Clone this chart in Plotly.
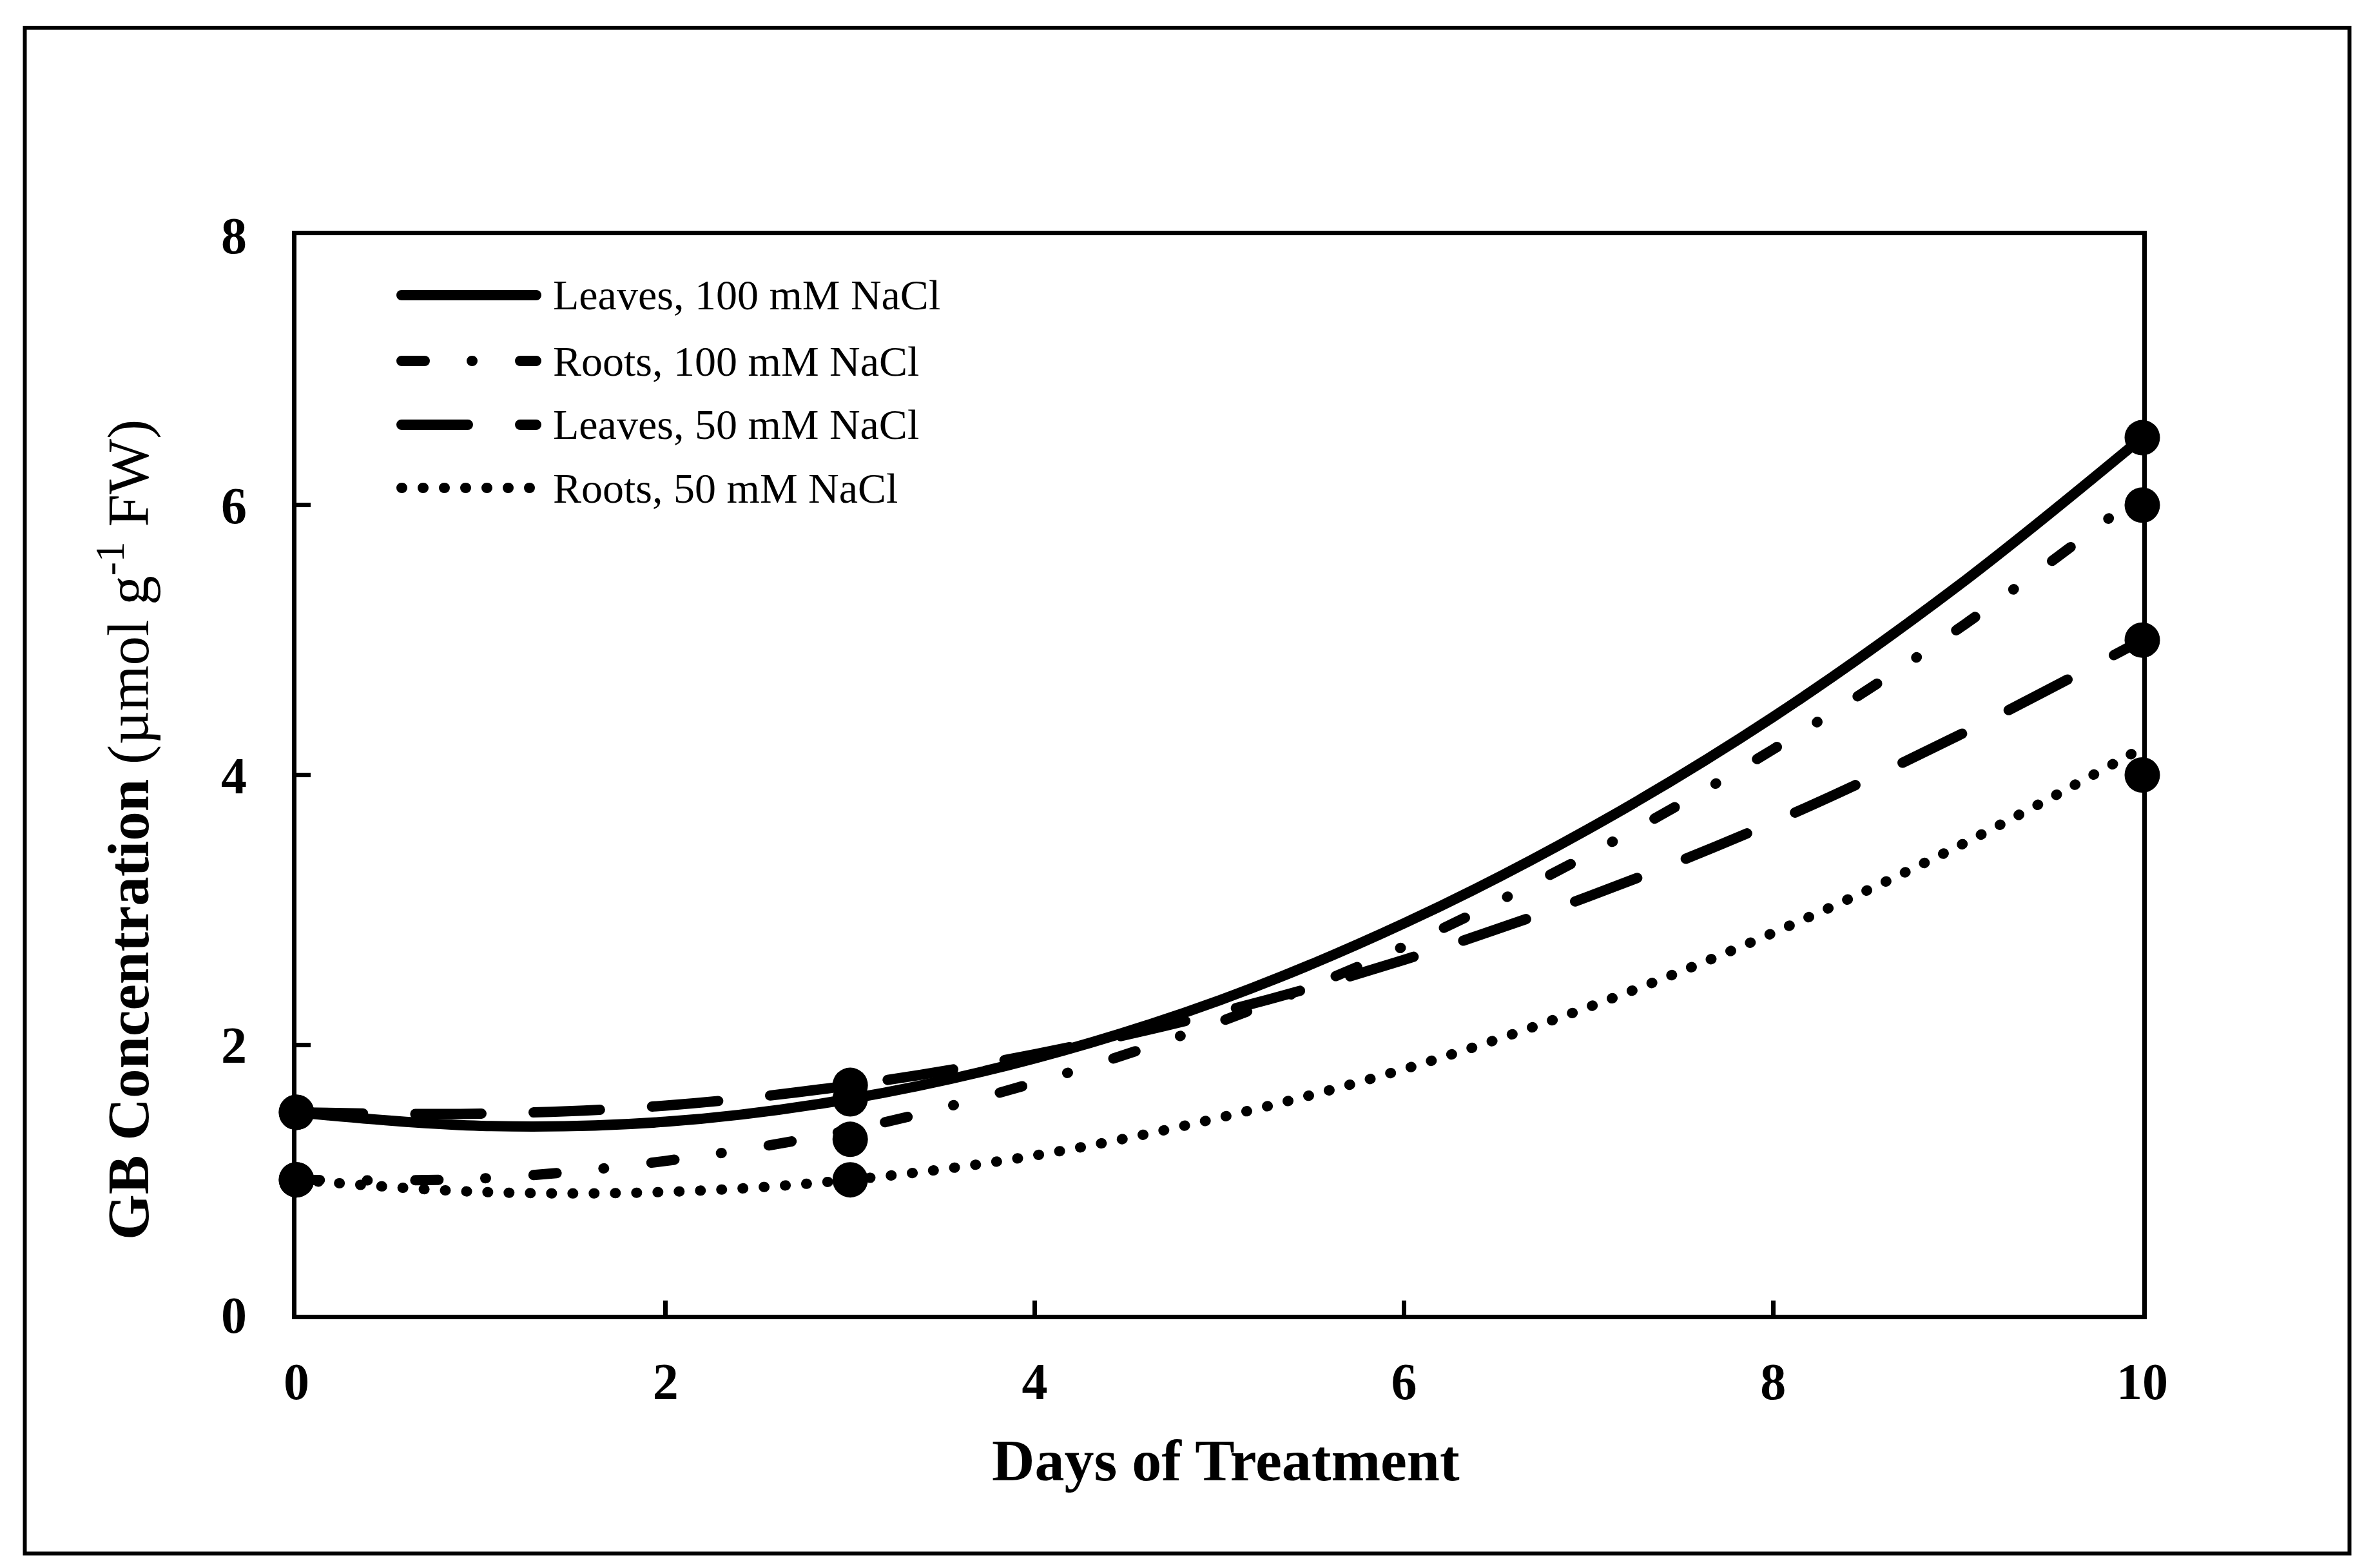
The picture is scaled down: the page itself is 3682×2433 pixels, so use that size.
import plotly.graph_objects as go

# ---------------- data ----------------
days = [0, 3, 10]
leaves_100 = [1.5, 1.6, 6.5]
roots_100 = [1.0, 1.3, 6.0]
leaves_50 = [1.5, 1.7, 5.0]
roots_50 = [1.0, 1.0, 4.0]

# polynomial trend lines as drawn in the picture, read at each day
trend_days = [0, 1, 2, 3, 4, 5, 6, 7, 8, 9, 10]
leaves_100_trend = [1.50, 1.40, 1.43, 1.60, 1.90, 2.33, 2.90, 3.60, 4.43, 5.40, 6.50]
roots_100_trend = [1.00, 1.01, 1.14, 1.37, 1.72, 2.17, 2.73, 3.41, 4.19, 5.08, 6.09]
leaves_50_trend = [1.50, 1.49, 1.55, 1.70, 1.93, 2.24, 2.63, 3.10, 3.65, 4.29, 5.00]
roots_50_trend = [1.00, 0.91, 0.91, 1.00, 1.18, 1.46, 1.82, 2.28, 2.83, 3.47, 4.20]

series_names = ["Leaves, 100 mM NaCl", "Roots, 100 mM NaCl",
                "Leaves, 50 mM NaCl", "Roots, 50 mM NaCl"]
x_ticks = [0, 2, 4, 6, 8, 10]
y_ticks = [0, 2, 4, 6, 8]
x_title = "<b>Days of Treatment</b>"
y_title = "<b>GB Concentration</b> (µmol g<sup>-1</sup> FW)"

# ---------------- styles ----------------
W, H = 3682, 2433
ML, MR, MT, MB = 452, 366, 357, 401
FONT = "Liberation Serif"
LW = 16
dashes = ["solid", "36px,73px,1px,74px", "103px,81px", "1px,32px"]

fig = go.Figure()

point_sets = [leaves_100, roots_100, leaves_50, roots_50]
trend_sets = [leaves_100_trend, roots_100_trend, leaves_50_trend, roots_50_trend]

for name, tr, dash in zip(series_names, trend_sets, dashes):
    fig.add_trace(go.Scatter(
        x=trend_days, y=tr, mode="lines", name=name, showlegend=False,
        line=dict(color="black", width=LW, dash=dash, shape="spline", smoothing=1.0),
        cliponaxis=False, hoverinfo="skip"))

for name, ys in zip(series_names, point_sets):
    fig.add_trace(go.Scatter(
        x=days, y=ys, mode="markers", name=name, showlegend=False,
        marker=dict(color="black", size=55, symbol="circle", line=dict(width=0)),
        cliponaxis=False))

# ---------------- custom legend (long line samples like the original) ----------------
def px_x(px):
    return (px - ML) / (W - ML - MR)

def px_y(py):
    return (H - MB - py) / (H - MT - MB)

legend_rows_px = [450, 552, 651, 749]
shapes = []
annotations = []
for name, dash, ry in zip(series_names, dashes, legend_rows_px):
    shapes.append(dict(type="line", xref="paper", yref="paper",
                       x0=px_x(615), x1=px_x(824), y0=px_y(ry), y1=px_y(ry),
                       line=dict(color="black", width=LW, dash=dash)))
    annotations.append(dict(text=name, xref="paper", yref="paper",
                            x=px_x(848), y=px_y(ry), xanchor="left", yanchor="middle",
                            showarrow=False,
                            font=dict(family=FONT, size=66, color="black")))

# outer frame
shapes.append(dict(type="rect", xref="paper", yref="paper",
                   x0=px_x(30.5), x1=px_x(3637.5), y0=px_y(2402.5), y1=px_y(35),
                   line=dict(color="black", width=6)))

annotations.append(dict(text=x_title, xref="paper", yref="paper",
                        x=px_x(1894), y=px_y(2258), xanchor="center", yanchor="middle",
                        showarrow=False, font=dict(family=FONT, size=92, color="black")))
annotations.append(dict(text=y_title, xref="paper", yref="paper",
                        x=px_x(184), y=px_y(1280), xanchor="center", yanchor="middle",
                        textangle=-90, showarrow=False,
                        font=dict(family=FONT, size=91, color="black")))

axis_common = dict(showline=True, linecolor="black", linewidth=7, mirror=True,
                   ticks="inside", ticklen=22, tickwidth=7, tickcolor="black",
                   showgrid=False, zeroline=False,
                   tickfont=dict(family=FONT, size=80, color="black", weight="bold"))

fig.update_layout(
    width=W, height=H,
    margin=dict(l=ML, r=MR, t=MT, b=MB, pad=0),
    paper_bgcolor="white", plot_bgcolor="white",
    showlegend=False,
    xaxis=dict(range=[0, 10], tickvals=x_ticks, ticklabelstandoff=28, **axis_common),
    yaxis=dict(range=[0, 8], tickvals=y_ticks, ticklabelstandoff=54, **axis_common),
    shapes=shapes, annotations=annotations,
)

post = """
var gd = document.getElementById('{plot_id}');
function roundCaps(){
  gd.querySelectorAll('.scatterlayer .js-line, .shapelayer path').forEach(function(p){
    p.style.strokeLinecap = 'round';
  });
}
roundCaps();
if (gd.on) { gd.on('plotly_afterplot', roundCaps); }
"""

fig.write_html("out.html", post_script=post)
